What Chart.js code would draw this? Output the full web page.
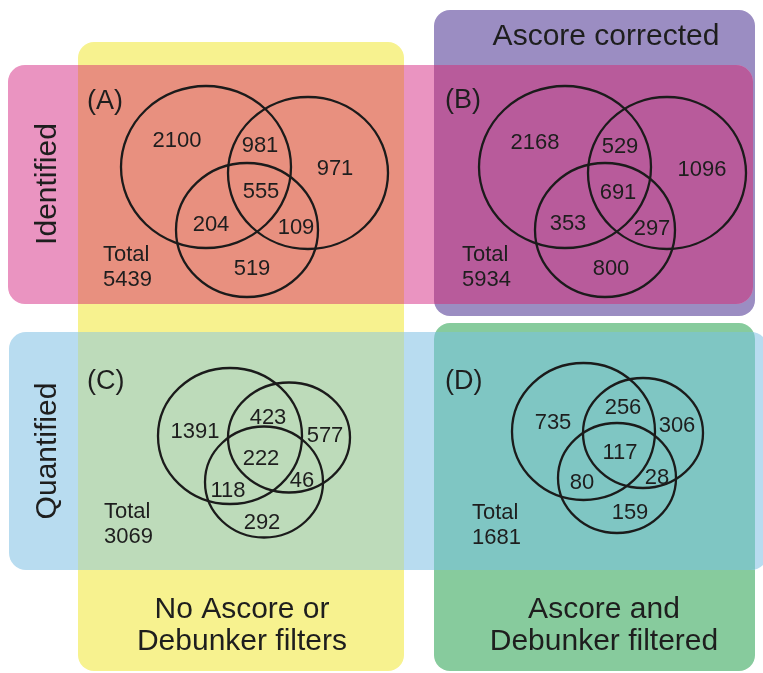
<!DOCTYPE html>
<html>
<head>
<meta charset="utf-8">
<script src="https://cdn.jsdelivr.net/npm/chart.js@4.4.1/dist/chart.umd.min.js"></script>
<style>
  html, body { margin: 0; padding: 0; background: #ffffff; }
  canvas { display: block; }
</style>
</head>
<body>
<canvas id="venn" width="763" height="673"></canvas>
<script>
// Region counts, in order: [set1 only, set1∩set2, set2 only, all three, set1∩set3, set2∩set3, set3 only]
const identifiedUnfiltered = [2100, 981, 971, 555, 204, 109, 519];
const identifiedAscore     = [2168, 529, 1096, 691, 353, 297, 800];
const quantifiedUnfiltered = [1391, 423, 577, 222, 118, 46, 292];
const quantifiedFiltered   = [735, 256, 306, 117, 80, 28, 159];
const panelTotals = [5439, 5934, 3069, 1681];
const panelTags = ['(A)', '(B)', '(C)', '(D)'];
const rowTitles = ['Identified', 'Quantified'];
const columnTitles = [['No Ascore or', 'Debunker filters'], ['Ascore and', 'Debunker filtered']];
const headerTitle = 'Ascore corrected';

// ---- layout (page units; the hidden axes map 1 unit to 1 pixel) ----
const FONT = "'Liberation Sans', Arial, Helvetica, sans-serif";
const panelValues = [identifiedUnfiltered, identifiedAscore, quantifiedUnfiltered, quantifiedFiltered];

const labelSpots = [
  [[177,140],[260,145],[335,168],[261,191],[211,224],[296,227],[252,268]],
  [[535,142],[620,146],[702,169],[618,192],[568,223],[652,228],[611,268]],
  [[195,431],[268,417],[325,435],[261,458],[228,490],[302,480],[262,522]],
  [[553,422],[623,407],[677,425],[620,452],[582,482],[657,477],[630,512]]
];
// ellipse outlines: [cx, cy, rx, ry]
const outlines = [
  [[206,167,85,81],[308,173,80,76],[247,230,71,67]],
  [[565,167,86,81],[667,173,79,76],[605,230,70,67]],
  [[230,436,72,68],[289,437.5,61,55],[264,482,59,55.5]],
  [[583.5,431.5,71.5,68.5],[643,433,60,55],[617,478,59,55]]
];
const tagSpots = [[87,102],[445,101],[87,382],[445,382]];
const totalSpots = [[103,261],[462,261],[104,518],[472,519]];

const boxes = {
  yellow: {x0:78,  y0:42,  x1:404, y1:671, r:16, fill:'#f7f28f'},
  purple: {x0:434, y0:10,  x1:755, y1:316, r:16, fill:'#9b8dc2'},
  green:  {x0:434, y0:323, x1:755, y1:671, r:16, fill:'#87cb9d'}
};
const bands = {
  pink: {x0:8, y0:65,  x1:753, y1:304, r:17, fill:'#ea94c1', over:{yellow:'#e8907f', purple:'#b85b9b'}},
  blue: {x0:9, y0:332, x1:768, y1:570, r:17, fill:'#b8dcf0', over:{yellow:'#bddbba', green:'#7fc6c3'}}
};

function roundRectPath(ctx, sx, sy, b) {
  const x0 = sx.getPixelForValue(b.x0), x1 = sx.getPixelForValue(b.x1);
  const y0 = sy.getPixelForValue(b.y0), y1 = sy.getPixelForValue(b.y1);
  ctx.beginPath();
  ctx.roundRect(x0, y0, x1 - x0, y1 - y0, b.r);
}

const backdrop = {
  id: 'backdrop',
  beforeDatasetsDraw(chart) {
    const {ctx, scales: {x: sx, y: sy}} = chart;
    ctx.save();
    for (const key of Object.keys(boxes)) {
      roundRectPath(ctx, sx, sy, boxes[key]);
      ctx.fillStyle = boxes[key].fill;
      ctx.fill();
    }
    for (const key of Object.keys(bands)) {
      const band = bands[key];
      roundRectPath(ctx, sx, sy, band);
      ctx.fillStyle = band.fill;
      ctx.fill();
      ctx.save();
      roundRectPath(ctx, sx, sy, band);
      ctx.clip();
      for (const boxKey of Object.keys(band.over)) {
        roundRectPath(ctx, sx, sy, boxes[boxKey]);
        ctx.fillStyle = band.over[boxKey];
        ctx.fill();
      }
      ctx.restore();
    }
    ctx.fillStyle = '#1e1e1e';
    ctx.textAlign = 'center';
    ctx.textBaseline = 'alphabetic';
    ctx.font = '30px ' + FONT;
    ctx.fillText(headerTitle, sx.getPixelForValue(606), sy.getPixelForValue(45));
    columnTitles[0].forEach((t, i) => ctx.fillText(t, sx.getPixelForValue(242), sy.getPixelForValue(618 + i * 32)));
    columnTitles[1].forEach((t, i) => ctx.fillText(t, sx.getPixelForValue(604), sy.getPixelForValue(618 + i * 32)));
    ctx.textBaseline = 'middle';
    [[47,184],[47,451]].forEach((p, i) => {
      ctx.save();
      ctx.translate(sx.getPixelForValue(p[0]), sy.getPixelForValue(p[1]));
      ctx.rotate(-Math.PI / 2);
      ctx.fillText(rowTitles[i], 0, 1);
      ctx.restore();
    });
    ctx.restore();
  }
};

const overlay = {
  id: 'overlay',
  afterDatasetsDraw(chart) {
    const {ctx, scales: {x: sx, y: sy}} = chart;
    const ux = Math.abs(sx.getPixelForValue(1) - sx.getPixelForValue(0));
    const uy = Math.abs(sy.getPixelForValue(1) - sy.getPixelForValue(0));
    ctx.save();
    ctx.strokeStyle = '#1b1b1b';
    ctx.lineWidth = 2.3;
    outlines.forEach(panel => panel.forEach(([cx, cy, rx, ry]) => {
      ctx.beginPath();
      ctx.ellipse(sx.getPixelForValue(cx), sy.getPixelForValue(cy), rx * ux, ry * uy, 0, 0, Math.PI * 2);
      ctx.stroke();
    }));
    ctx.fillStyle = '#1e1e1e';
    // region counts, placed at each scatter point
    ctx.font = '22px ' + FONT;
    ctx.textAlign = 'center';
    ctx.textBaseline = 'middle';
    chart.data.datasets.forEach((ds, di) => {
      chart.getDatasetMeta(di).data.forEach((pt, j) => {
        ctx.fillText(String(ds.data[j].v), pt.x, pt.y + 1);
      });
    });
    // panel tags and totals
    ctx.textAlign = 'left';
    ctx.textBaseline = 'middle';
    ctx.font = '27px ' + FONT;
    tagSpots.forEach((p, i) => ctx.fillText(panelTags[i], sx.getPixelForValue(p[0]), sy.getPixelForValue(p[1])));
    ctx.textBaseline = 'alphabetic';
    ctx.font = '22px ' + FONT;
    totalSpots.forEach((p, i) => {
      ctx.fillText('Total', sx.getPixelForValue(p[0]), sy.getPixelForValue(p[1]));
      ctx.fillText(String(panelTotals[i]), sx.getPixelForValue(p[0]), sy.getPixelForValue(p[1] + 25));
    });
    ctx.restore();
  }
};

new Chart(document.getElementById('venn'), {
  type: 'scatter',
  data: {
    datasets: panelValues.map((vals, k) => ({
      label: panelTags[k],
      data: vals.map((v, j) => ({x: labelSpots[k][j][0], y: labelSpots[k][j][1], v})),
      pointRadius: 0,
      pointHoverRadius: 0
    }))
  },
  options: {
    responsive: false,
    devicePixelRatio: 1,
    animation: false,
    events: [],
    layout: {padding: 0},
    scales: {
      x: {type: 'linear', min: 0, max: 763, display: false},
      y: {type: 'linear', min: 0, max: 673, reverse: true, display: false}
    },
    plugins: {legend: {display: false}, tooltip: {enabled: false}}
  },
  plugins: [backdrop, overlay]
});
</script>
</body>
</html>
